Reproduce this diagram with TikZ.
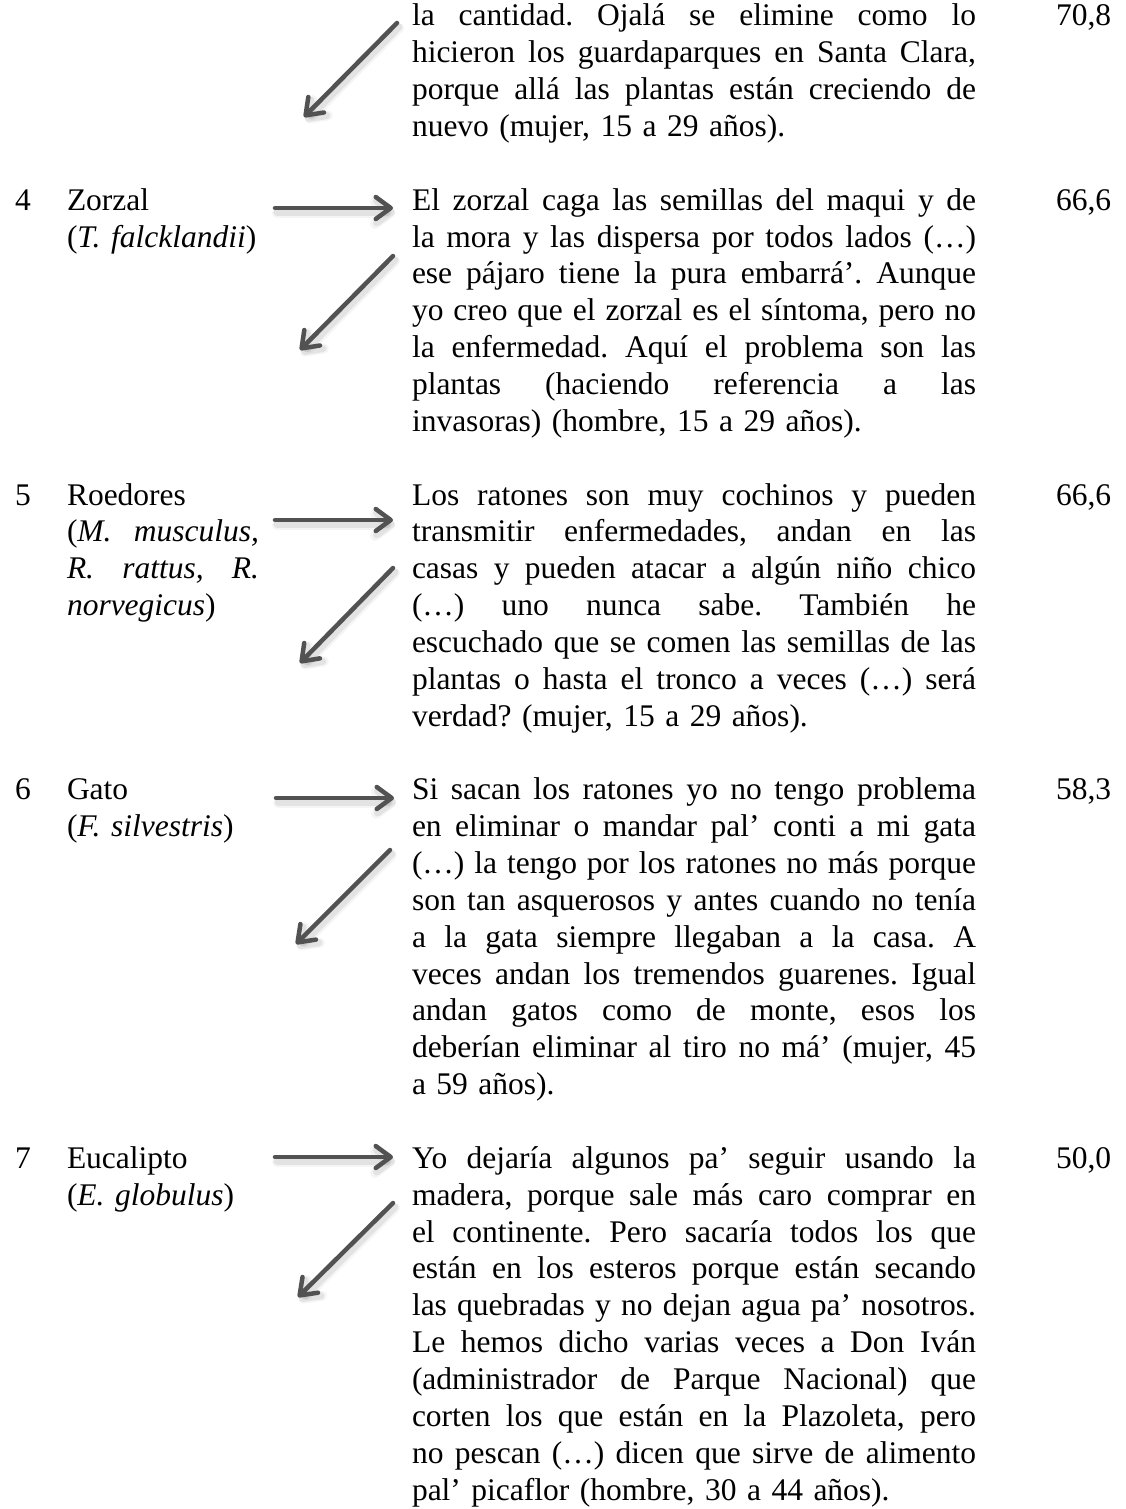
\documentclass[tikz,border=0pt]{standalone}
\usepackage{fontspec}
\setmainfont{Liberation Serif}
\usetikzlibrary{arrows.meta}
\definecolor{arrowgray}{RGB}{82,82,82}
% one justified line of the comment column / of the species column:
% every interword space stretches by the same amount
\newcommand{\jline}[1]{\leavevmode\hbox to 564pt{\spaceskip=.25em plus 1fil minus .1em\xspaceskip=\spaceskip #1}}
\newcommand{\sline}[1]{\leavevmode\hbox to 192pt{\spaceskip=.25em plus 1fil minus .1em\xspaceskip=\spaceskip #1}}
% arrow with a soft drop shadow
\newcommand{\castarrow}[2]{%
  \draw[arrshade, line width=10pt, opacity=.04] ([shift={(2,5)}]#1) -- ([shift={(2,5)}]#2);
  \draw[arrshade, line width=7pt, opacity=.07] ([shift={(2,4)}]#1) -- ([shift={(2,4)}]#2);
  \draw[arr] (#1) -- (#2);}

\begin{document}
\begin{tikzpicture}[x=1pt,y=-1pt,
  celltext/.style={anchor=base west, inner sep=0pt, outer sep=0pt, align=left,
    font=\fontsize{31.5}{36.85}\selectfont\frenchspacing},
  cita/.style={celltext, text width=564pt},
  species/.style={celltext, text width=192pt},
  arr/.style={draw=arrowgray, line width=4.5pt, line cap=round, line join=round,
    -{Straight Barb[length=15pt, width=22pt, round]}},
  arrshade/.style={draw=black, line cap=round, line join=round,
    -{Straight Barb[length=15pt, width=22pt, round]}},
]
\fill[white] (0,0) rectangle (1126,1509);
\useasboundingbox (0,0) rectangle (1126,1509);

% ---- row 3 (continued) ----
\node[cita] (t3) at (412,26) {\jline{la cantidad. Ojalá se elimine como lo}\\
\jline{hicieron los guardaparques en Santa Clara,}\\
\jline{porque allá las plantas están creciendo de}\\
nuevo (mujer, 15 a 29 años).};
\node[celltext] (v3) at (1056,26) {70,8};

% ---- row 4 ----
\node[celltext] (n4) at (15,210.25) {4};
\node[species] (s4) at (67,210.25) {Zorzal\\(\textit{T. falcklandii})};
\node[cita] (t4) at (412,210.25) {\jline{El zorzal caga las semillas del maqui y de}\\
\jline{la mora y las dispersa por todos lados (…)}\\
\jline{ese pájaro tiene la pura embarrá’. Aunque}\\
\jline{yo creo que el zorzal es el síntoma, pero no}\\
\jline{la enfermedad. Aquí el problema son las}\\
\jline{plantas (haciendo referencia a las}\\
invasoras) (hombre, 15 a 29 años).};
\node[celltext] (v4) at (1056,210.25) {66,6};

% ---- row 5 ----
\node[celltext] (n5) at (15,505.05) {5};
\node[species] (s5) at (67,505.05) {Roedores\\
\sline{(\textit{M. musculus,}}\\
\sline{\textit{R. rattus, R.}}\\
\textit{norvegicus})};
\node[cita] (t5) at (412,505.05) {\jline{Los ratones son muy cochinos y pueden}\\
\jline{transmitir enfermedades, andan en las}\\
\jline{casas y pueden atacar a algún niño chico}\\
\jline{(…) uno nunca sabe. También he}\\
\jline{escuchado que se comen las semillas de las}\\
\jline{plantas o hasta el tronco a veces (…) será}\\
verdad? (mujer, 15 a 29 años).};
\node[celltext] (v5) at (1056,505.05) {66,6};

% ---- row 6 ----
\node[celltext] (n6) at (15,799.85) {6};
\node[species] (s6) at (67,799.85) {Gato\\(\textit{F. silvestris})};
\node[cita] (t6) at (412,799.85) {\jline{Si sacan los ratones yo no tengo problema}\\
\jline{en eliminar o mandar pal’ conti a mi gata}\\
\jline{(…) la tengo por los ratones no más porque}\\
\jline{son tan asquerosos y antes cuando no tenía}\\
\jline{a la gata siempre llegaban a la casa. A}\\
\jline{veces andan los tremendos guarenes. Igual}\\
\jline{andan gatos como de monte, esos los}\\
\jline{deberían eliminar al tiro no má’ (mujer, 45}\\
a 59 años).};
\node[celltext] (v6) at (1056,799.85) {58,3};

% ---- row 7 ----
\node[celltext] (n7) at (15,1168.35) {7};
\node[species] (s7) at (67,1168.35) {Eucalipto\\(\textit{E. globulus})};
\node[cita] (t7) at (412,1168.35) {\jline{Yo dejaría algunos pa’ seguir usando la}\\
\jline{madera, porque sale más caro comprar en}\\
\jline{el continente. Pero sacaría todos los que}\\
\jline{están en los esteros porque están secando}\\
\jline{las quebradas y no dejan agua pa’ nosotros.}\\
\jline{Le hemos dicho varias veces a Don Iván}\\
\jline{(administrador de Parque Nacional) que}\\
\jline{corten los que están en la Plazoleta, pero}\\
\jline{no pescan (…) dicen que sirve de alimento}\\
pal’ picaflor (hombre, 30 a 44 años).};
\node[celltext] (v7) at (1056,1168.35) {50,0};

% ---- arrow end points ----
\coordinate (d3s) at (397,23);   \coordinate (d3e) at (304,117);
\coordinate (h4s) at (275,208);  \coordinate (h4e) at (393,208);
\coordinate (d4s) at (393,256);  \coordinate (d4e) at (300,350);
\coordinate (h5s) at (275,520);  \coordinate (h5e) at (393,520);
\coordinate (d5s) at (393,568);  \coordinate (d5e) at (300,663);
\coordinate (h6s) at (276,798);  \coordinate (h6e) at (394,798);
\coordinate (d6s) at (390,850);  \coordinate (d6e) at (296,944);
\coordinate (h7s) at (275,1157); \coordinate (h7e) at (393,1157);
\coordinate (d7s) at (393,1203); \coordinate (d7e) at (298,1297);

\castarrow{d3s}{d3e}
\castarrow{h4s}{h4e}
\castarrow{d4s}{d4e}
\castarrow{h5s}{h5e}
\castarrow{d5s}{d5e}
\castarrow{h6s}{h6e}
\castarrow{d6s}{d6e}
\castarrow{h7s}{h7e}
\castarrow{d7s}{d7e}
\end{tikzpicture}
\end{document}
